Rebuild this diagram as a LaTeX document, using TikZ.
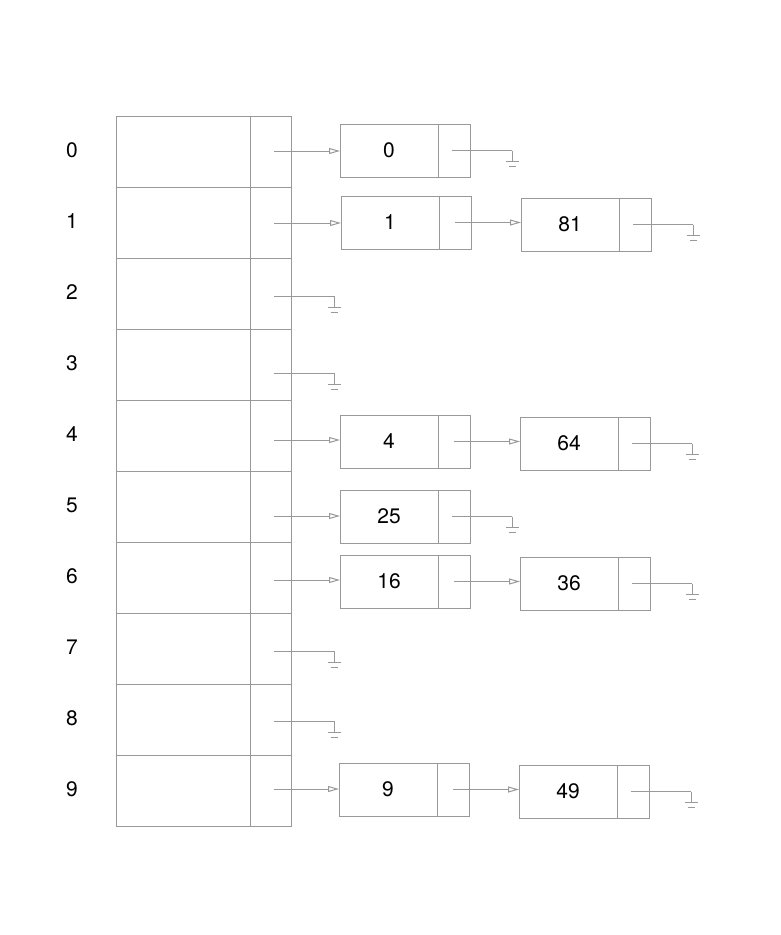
\documentclass[tikz,border=0pt]{standalone}
\usepackage{fontspec}
\setmainfont{TeX Gyre Heros}
\usetikzlibrary{arrows.meta,positioning,calc}
\definecolor{htLine}{HTML}{999999}
\tikzset{
  htnode/.style={
    draw=htLine, line width=1pt, inner sep=0pt, outer sep=0pt,
    font=\fontsize{21}{25}\selectfont
  },
  bucket/.style={htnode, minimum width=134pt, minimum height=71pt},
  slot/.style={htnode, minimum width=41pt, minimum height=71pt},
  keybox/.style={htnode, minimum width=98pt, minimum height=53pt,
    text depth=-1.5pt},
  nextbox/.style={htnode, minimum width=32pt, minimum height=53pt},
  idx/.style={font=\fontsize{21}{25}\selectfont},
  wire/.style={draw=htLine, line width=1pt},
  link/.style={wire, -{Triangle[open, length=11pt, width=6pt]}},
  ground/.pic={
    \draw[wire] (0,0) -- (0,11) (-6.5,11) -- (6.5,11) (-3.5,16) -- (3.5,16);
  }
}

\begin{document}
\begin{tikzpicture}[x=1pt, y=-1pt]
  \useasboundingbox (0,0) rectangle (780,935);
  % bucket array
  \foreach \i/\y in {0/151,1/223,2/296,3/373,4/440,5/516,6/580,7/651,8/721,9/789} {
    \node[bucket] (b\i) at (183, 151.5+71*\i) {};
    \node[slot, right=0pt of b\i] (s\i) {};
    \node[idx] (l\i) at (72, 150.5+71*\i) {\i};
    \coordinate (p\i) at (274, \y);
  }

  % first column of list nodes
  \node[keybox] (k0) at (389, 150.5) {0};
  \node[nextbox, right=0pt of k0] (n0) {};
  \node[keybox] (k1) at (390, 222.5) {1};
  \node[nextbox, right=0pt of k1] (n1) {};
  \node[keybox] (k4) at (389, 441.5) {4};
  \node[nextbox, right=0pt of k4] (n4) {};
  \node[keybox] (k25) at (389, 516.5) {25};
  \node[nextbox, right=0pt of k25] (n25) {};
  \node[keybox] (k16) at (389, 581.5) {16};
  \node[nextbox, right=0pt of k16] (n16) {};
  \node[keybox] (k9) at (388, 789.5) {9};
  \node[nextbox, right=0pt of k9] (n9) {};

  % second column of list nodes
  \node[keybox] (k81) at (570, 224.5) {81};
  \node[nextbox, right=0pt of k81] (n81) {};
  \node[keybox] (k64) at (569, 443.5) {64};
  \node[nextbox, right=0pt of k64] (n64) {};
  \node[keybox] (k36) at (569, 583.5) {36};
  \node[nextbox, right=0pt of k36] (n36) {};
  \node[keybox] (k49) at (568, 791.5) {49};
  \node[nextbox, right=0pt of k49] (n49) {};

  % bucket pointers
  \foreach \i in {0,1,4,9}
    \draw[link] (p\i) -- (p\i -| k\i.west);
  \draw[link] (p5) -- (p5 -| k25.west);
  \draw[link] (p6) -- (p6 -| k16.west);
  \foreach \i in {2,3,7,8}
    \draw[wire] (p\i) -- ++(60,0) pic {ground};

  % next pointers
  \draw[link] (n1.center) -- (n1.center -| k81.west);
  \draw[link] (n4.center) -- (n4.center -| k64.west);
  \draw[link] (n16.center) -- (n16.center -| k36.west);
  \draw[link] (n9.center) -- (n9.center -| k49.west);
  \foreach \n in {0,25,81,64,36,49}
    \draw[wire] ([xshift=-2pt]n\n.center) -- ++(60,0) pic {ground};
\end{tikzpicture}
\end{document}
